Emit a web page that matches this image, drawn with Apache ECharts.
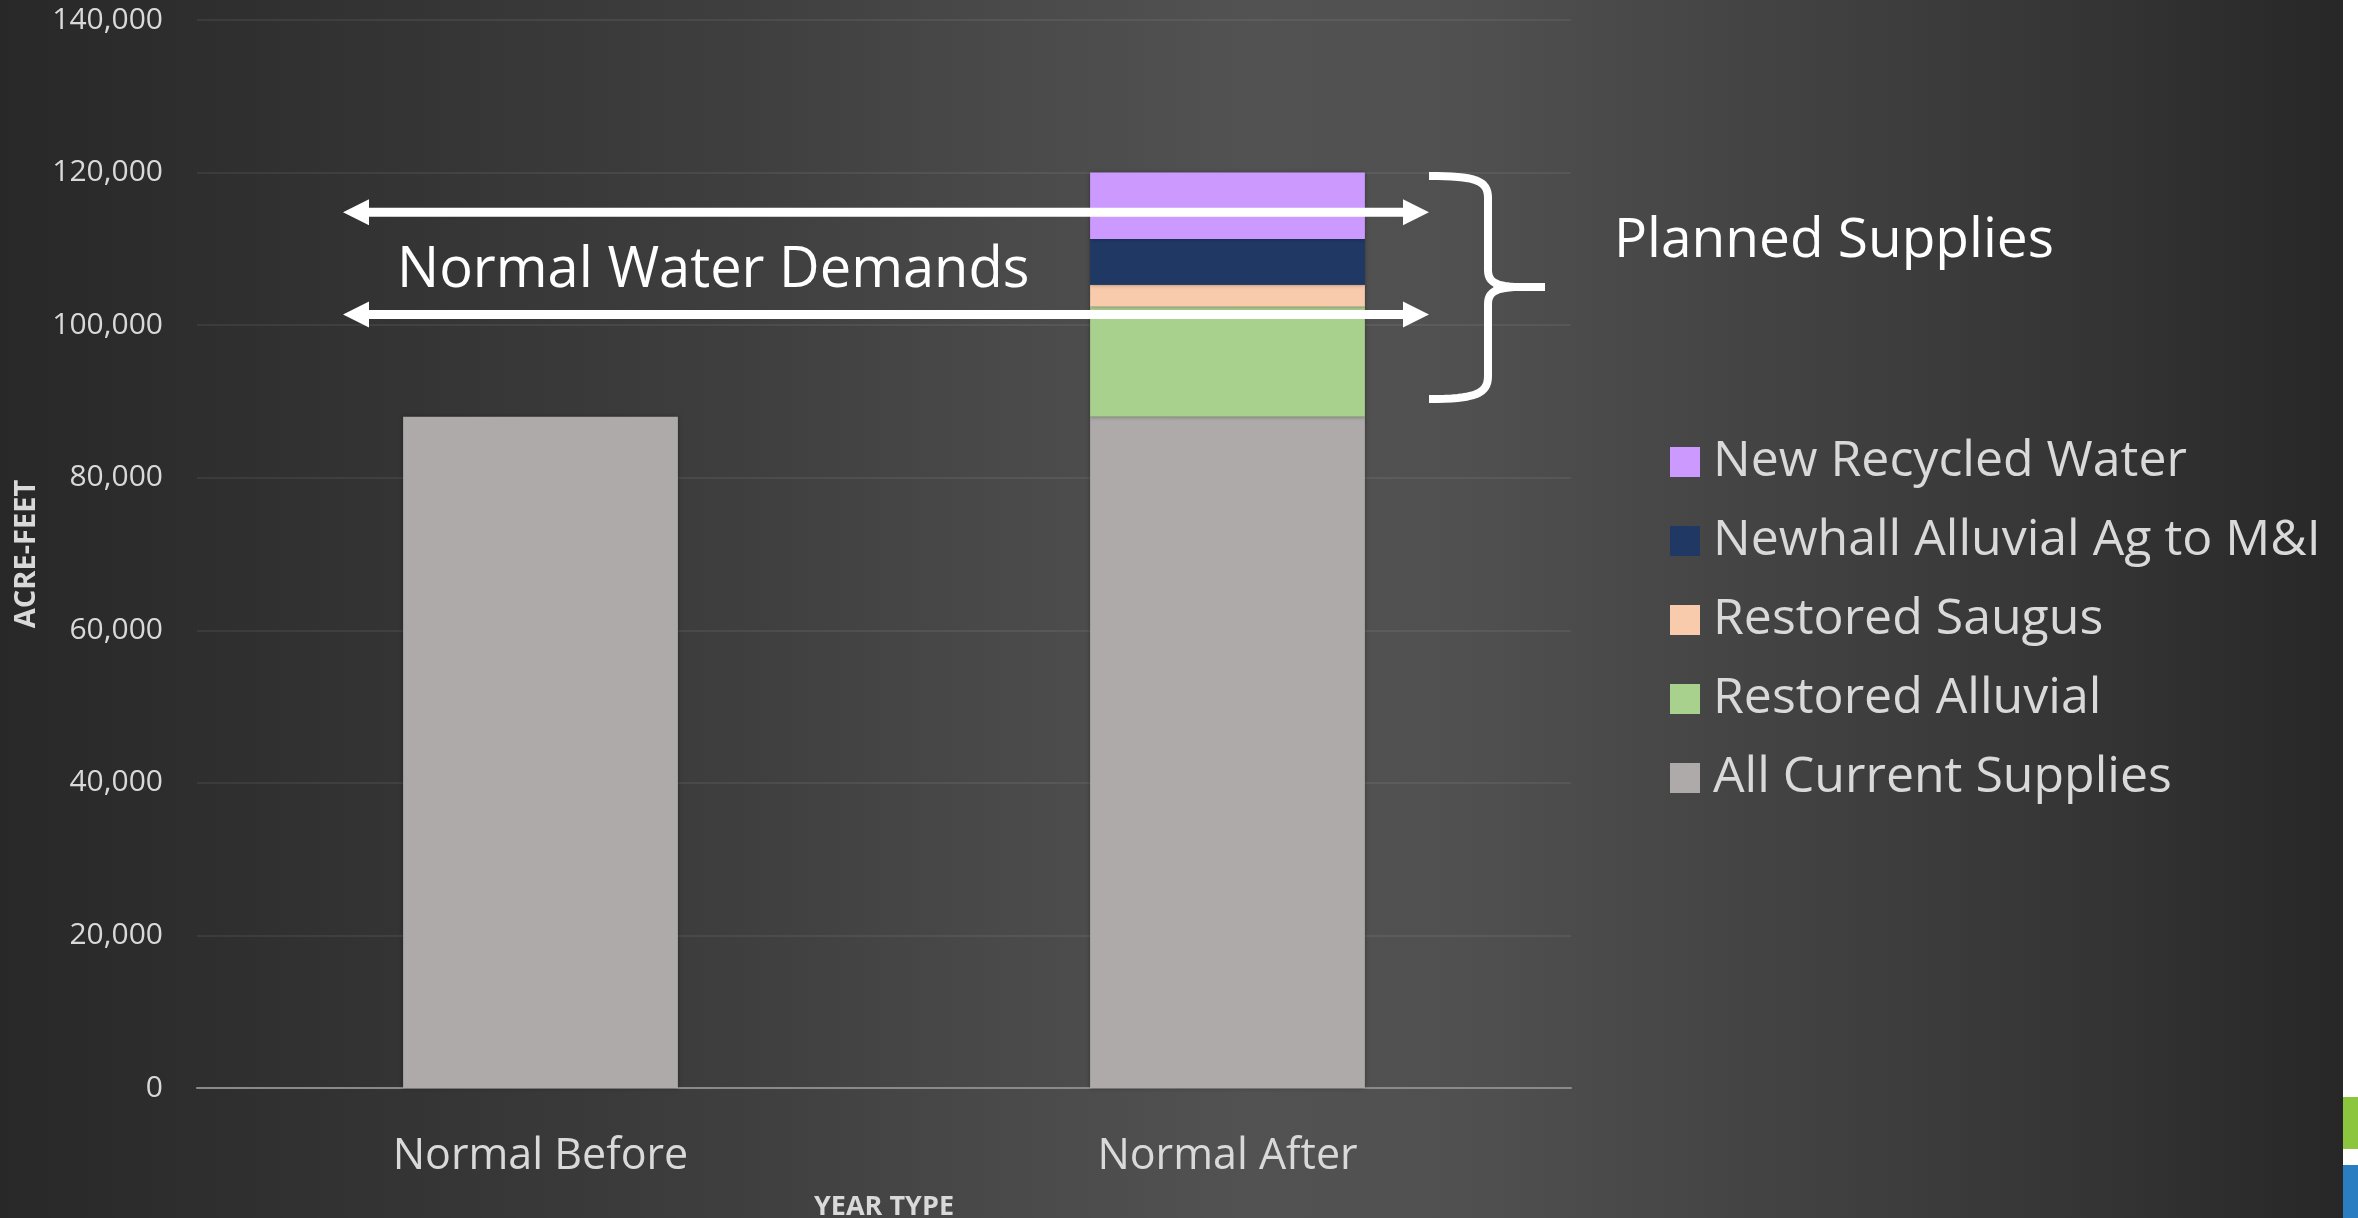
<!DOCTYPE html>
<html>
<head>
<meta charset="utf-8">
<style>
  html, body { margin: 0; padding: 0; background: #ffffff; }
  #chart { width: 2358px; height: 1218px; }
</style>
<script src="https://cdn.jsdelivr.net/npm/echarts@6/dist/echarts.min.js"></script>
</head>
<body>
<div id="chart"></div>
<script>
// ---- data ----
var categories = ['Normal Before', 'Normal After'];
var allCurrentSupplies = [88000, 88000];
var restoredAlluvial = [null, 14400];
var restoredSaugus = [null, 2900];
var newhallAlluvial = [null, 6000];
var newRecycledWater = [null, 8700];
var seriesNames = ['All Current Supplies', 'Restored Alluvial', 'Restored Saugus', 'Newhall Alluvial Ag to M&I', 'New Recycled Water'];
var legendOrder = ['New Recycled Water', 'Newhall Alluvial Ag to M&I', 'Restored Saugus', 'Restored Alluvial', 'All Current Supplies'];
var demandLevels = [114800, 101400];
var yTicks = { min: 0, max: 140000, interval: 20000 };

var colors = ['#aeaaaa', '#a9d18e', '#f8cbad', '#203864', '#cc99ff'];
var seriesData = [allCurrentSupplies, restoredAlluvial, restoredSaugus, newhallAlluvial, newRecycledWater];
var FONT = 'Open Sans';
var LABEL = '#d9d9d9';

var chart = echarts.init(document.getElementById('chart'), null, { renderer: 'canvas' });

var series = seriesNames.map(function (name, i) {
  return {
    name: name,
    type: 'bar',
    stack: 'total',
    barWidth: '40%',
    data: seriesData[i],
    itemStyle: { color: colors[i], shadowColor: 'rgba(0,0,0,0.35)', shadowBlur: 4 },
    emphasis: { disabled: true }
  };
});

var option = {
  animation: false,
  backgroundColor: {
    type: 'linear', x: 0, y: 0, x2: 1, y2: 0,
    colorStops: [
      { offset: 0, color: '#282828' },
      { offset: 0.17, color: '#343434' },
      { offset: 0.32, color: '#3f3f3f' },
      { offset: 0.42, color: '#494949' },
      { offset: 0.53, color: '#525252' },
      { offset: 0.62, color: '#505050' },
      { offset: 0.68, color: '#4a4a4a' },
      { offset: 0.89, color: '#343434' },
      { offset: 0.9935, color: '#272727' },
      { offset: 0.9937, color: '#ffffff' },
      { offset: 1, color: '#ffffff' }
    ]
  },
  textStyle: { fontFamily: FONT },
  grid: { left: 197, right: 787, top: 20, bottom: 130, containLabel: false, outerBoundsMode: 'none' },
  legend: {
    data: legendOrder,
    orient: 'vertical',
    left: 1665,
    top: 432,
    icon: 'rect',
    itemWidth: 30,
    itemHeight: 30,
    itemGap: 29,
    selectedMode: false,
    textStyle: { color: LABEL, fontSize: 50, fontFamily: FONT, padding: [0, 0, 0, 8] }
  },
  xAxis: {
    type: 'category',
    data: categories,
    name: 'YEAR TYPE',
    nameLocation: 'middle',
    nameGap: 106,
    nameTextStyle: { color: LABEL, fontSize: 27, fontWeight: 'bold', fontFamily: FONT },
    axisLine: { lineStyle: { color: '#8a8a8a', width: 2 } },
    axisTick: { show: false },
    axisLabel: { color: LABEL, fontSize: 43, margin: 47, fontFamily: FONT }
  },
  yAxis: {
    type: 'value',
    min: yTicks.min,
    max: yTicks.max,
    interval: yTicks.interval,
    name: 'ACRE-FEET',
    nameLocation: 'middle',
    nameGap: 156,
    nameTextStyle: { color: LABEL, fontSize: 29, fontWeight: 'bold', fontFamily: FONT },
    axisLine: { show: false },
    axisTick: { show: false },
    axisLabel: { color: LABEL, fontSize: 30, margin: 34, fontFamily: FONT },
    splitLine: { lineStyle: { color: 'rgba(255,255,255,0.09)', width: 1.5 } }
  },
  series: series
};

chart.setOption(option);

// ---- annotations ----
function arrowPoints(y, x1, x2) {
  var hl = 26, hh = 13, t = 4.5;
  return [[x1, y], [x1 + hl, y - hh], [x1 + hl, y - t], [x2 - hl, y - t], [x2 - hl, y - hh],
          [x2, y], [x2 - hl, y + hh], [x2 - hl, y + t], [x1 + hl, y + t], [x1 + hl, y + hh]];
}
function cubic(p0, c1, c2, p1, n) {
  var pts = [];
  for (var i = 1; i <= n; i++) {
    var t = i / n, u = 1 - t;
    pts.push([
      u * u * u * p0[0] + 3 * u * u * t * c1[0] + 3 * u * t * t * c2[0] + t * t * t * p1[0],
      u * u * u * p0[1] + 3 * u * u * t * c1[1] + 3 * u * t * t * c2[1] + t * t * t * p1[1]
    ]);
  }
  return pts;
}
var braceTop = [[1429, 176]]
  .concat(cubic([1429, 176], [1475, 176], [1488, 180], [1488, 198], 16))
  .concat([[1488, 270]])
  .concat(cubic([1488, 270], [1488, 282], [1496, 287], [1520, 287], 12))
  .concat([[1545, 287]]);
var braceBottom = [[1545, 287], [1520, 287]]
  .concat(cubic([1520, 287], [1496, 287], [1488, 292], [1488, 304], 12))
  .concat([[1488, 376]])
  .concat(cubic([1488, 376], [1488, 394], [1475, 399], [1429, 399], 16));

var graphics = [];
demandLevels.forEach(function (v) {
  var y = chart.convertToPixel({ yAxisIndex: 0 }, v);
  graphics.push({ type: 'polygon', shape: { points: arrowPoints(y, 343, 1429) }, style: { fill: '#ffffff' }, z: 10 });
});
graphics.push({
  type: 'text', x: 397, y: 271, z: 10,
  style: { text: 'Normal Water Demands', fill: '#ffffff', font: '56px "Open Sans"', textAlign: 'left', textVerticalAlign: 'middle', verticalAlign: 'middle' }
});
graphics.push({ type: 'polyline', z: 10, shape: { points: braceTop }, style: { stroke: '#ffffff', lineWidth: 8, fill: null, lineJoin: 'round' } });
graphics.push({ type: 'polyline', z: 10, shape: { points: braceBottom }, style: { stroke: '#ffffff', lineWidth: 8, fill: null, lineJoin: 'round' } });
graphics.push({
  type: 'text', x: 1614, y: 241, z: 10,
  style: { text: 'Planned Supplies', fill: '#ffffff', font: '55px "Open Sans"', textAlign: 'left', textVerticalAlign: 'middle', verticalAlign: 'middle' }
});
graphics.push({ type: 'rect', shape: { x: 2343, y: 1097, width: 15, height: 52 }, style: { fill: '#8cc63e' } });
graphics.push({ type: 'rect', shape: { x: 2343, y: 1165, width: 15, height: 53 }, style: { fill: '#2a7dc1' } });

chart.setOption({ graphic: graphics });
</script>
</body>
</html>
